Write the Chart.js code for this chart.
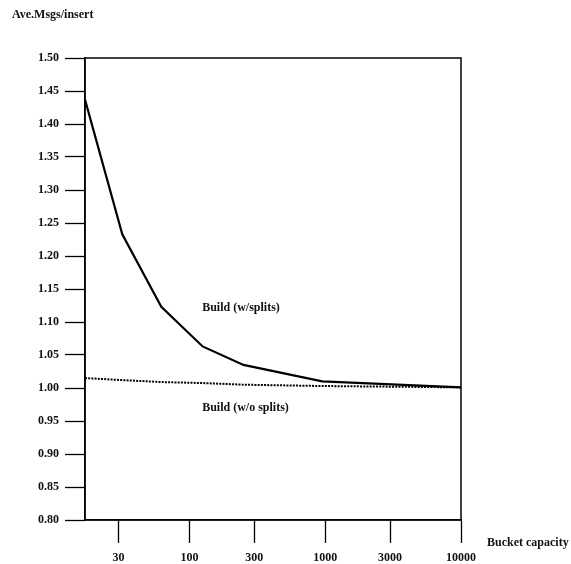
<!DOCTYPE html>
<html>
<head>
<meta charset="utf-8">
<script src="https://cdn.jsdelivr.net/npm/chart.js@4"></script>
<style>
  html, body { margin: 0; padding: 0; background: #fff; }
  #wrap { position: relative; width: 571px; height: 564px; }
</style>
</head>
<body>
<div id="wrap"><canvas id="chart"></canvas></div>
<script>
/* data */
const bucketCapacity = [17, 32, 62, 125, 250, 950, 10000];
const withSplits     = [1.437, 1.233, 1.123, 1.063, 1.035, 1.010, 1.001];
const withoutSplits  = [1.015, 1.012, 1.009, 1.0075, 1.005, 1.003, 1.001];

const xTickValues = [30, 100, 300, 1000, 3000, 10000];
const yTickValues = [0.80, 0.85, 0.90, 0.95, 1.00, 1.05, 1.10, 1.15, 1.20, 1.25, 1.30, 1.35, 1.40, 1.45, 1.50];

const seriesLabelTexts = ['Build (w/splits)', 'Build (w/o splits)'];
const seriesLabelX     = [124, 124];
const seriesLabelY     = [1.122, 0.970];

const FONT = '"Liberation Serif", "DejaVu Serif", serif';

// frame, axis titles and in-plot series labels
const decorPlugin = {
  id: 'decor',
  afterDraw(chart) {
    const { ctx, chartArea: a, scales } = chart;
    ctx.save();
    ctx.strokeStyle = '#000';
    ctx.lineWidth = 1.5;
    ctx.strokeRect(a.left, a.top, a.right - a.left, a.bottom - a.top);

    ctx.fillStyle = '#111';
    ctx.font = 'bold 12px ' + FONT;
    ctx.textBaseline = 'middle';
    ctx.textAlign = 'left';
    ctx.fillText('Ave.Msgs/insert', 12, 15);
    ctx.fillText('Bucket capacity', 487, 543);

    seriesLabelTexts.forEach((t, i) => {
      const px = scales.x.getPixelForValue(seriesLabelX[i]);
      const py = scales.y.getPixelForValue(seriesLabelY[i]);
      ctx.fillText(t, px, py);
    });
    ctx.restore();
  }
};

new Chart(document.getElementById('chart'), {
  type: 'line',
  data: {
    datasets: [
      {
        label: 'Build (w/splits)',
        data: bucketCapacity.map((x, i) => ({ x, y: withSplits[i] })),
        borderColor: '#000',
        borderWidth: 2.2,
        pointRadius: 0,
        tension: 0,
        fill: false
      },
      {
        label: 'Build (w/o splits)',
        data: bucketCapacity.map((x, i) => ({ x, y: withoutSplits[i] })),
        borderColor: '#000',
        borderWidth: 2,
        borderDash: [2, 1.2],
        pointRadius: 0,
        tension: 0,
        fill: false
      }
    ]
  },
  options: {
    responsive: true,
    maintainAspectRatio: false,
    animation: false,
    layout: { padding: { top: 58, right: 110, left: 0, bottom: 0 } },
    plugins: {
      legend: { display: false },
      tooltip: { enabled: false }
    },
    scales: {
      x: {
        type: 'logarithmic',
        min: 17,
        max: 10000,
        afterBuildTicks: s => { s.ticks = xTickValues.map(v => ({ value: v })); },
        afterFit: s => { s.height = 44; },
        grid: { drawOnChartArea: false, drawTicks: true, tickLength: 23, tickColor: '#000', tickWidth: 1.3 },
        border: { display: true, color: '#000', width: 1.5 },
        ticks: {
          color: '#111',
          font: { family: FONT, size: 12, weight: 'bold' },
          padding: 8,
          maxRotation: 0,
          autoSkip: false,
          callback: v => String(v)
        }
      },
      y: {
        min: 0.8,
        max: 1.5,
        afterBuildTicks: s => { s.ticks = yTickValues.map(v => ({ value: v })); },
        afterFit: s => { s.width = 85; },
        grid: { drawOnChartArea: false, drawTicks: true, tickLength: 20, tickColor: '#000', tickWidth: 1.3 },
        border: { display: true, color: '#000', width: 1.5 },
        ticks: {
          color: '#111',
          font: { family: FONT, size: 12, weight: 'bold' },
          padding: 6,
          autoSkip: false,
          callback: v => Number(v).toFixed(2)
        }
      }
    }
  },
  plugins: [decorPlugin]
});
</script>
</body>
</html>
